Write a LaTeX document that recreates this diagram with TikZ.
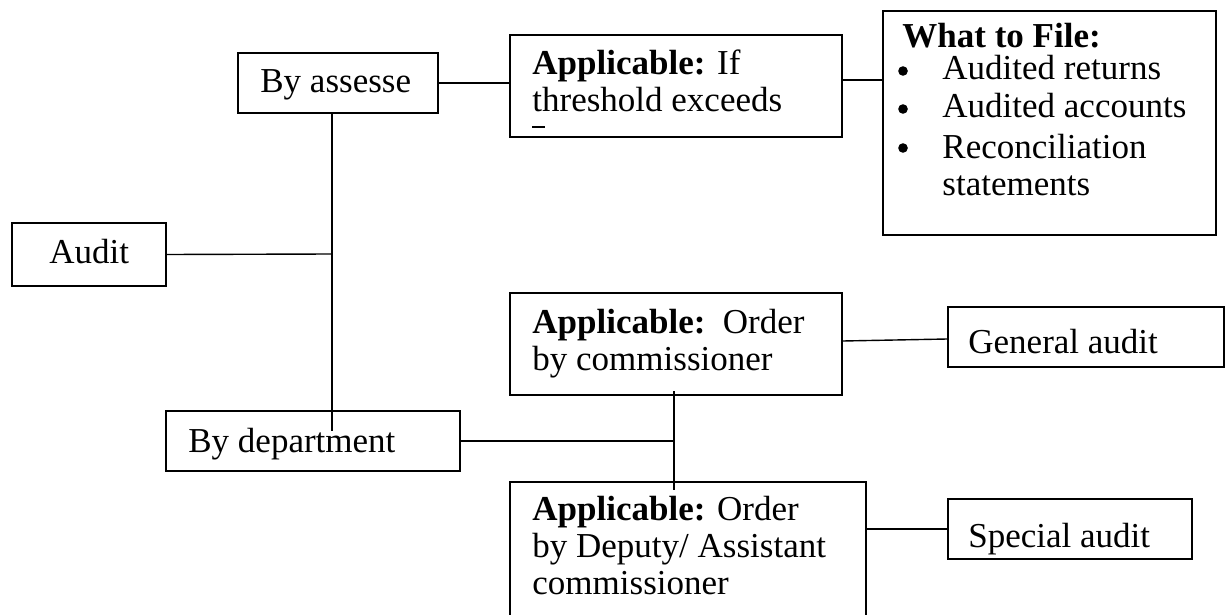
\documentclass[tikz,border=0pt]{standalone}
\usepackage{fontspec}
\setmainfont{Liberation Serif}
\begin{document}
\begin{tikzpicture}[x=0.5pt,y=-0.5pt,
  box/.style={draw,line width=0.9pt,rectangle,inner sep=0pt},
  link/.style={line width=0.7pt},
  txt/.style={anchor=base west,inner sep=0pt,align=left,font=\fontsize{17.5}{18.5}\selectfont}]
\clip (0,0) rectangle (1226,615);
\fill[white] (0,0) rectangle (1226,615);
% boxes
\node[box,minimum width=100pt,minimum height=30pt] (assesse) at (338,83) {};
\node[box,minimum width=166pt,minimum height=51pt] (appif) at (676,86) {};
\node[box,minimum width=166.5pt,minimum height=112pt] (file) at (1049.5,123) {};
\node[box,minimum width=77pt,minimum height=31.5pt] (audit) at (89,254.5) {};
\node[box,minimum width=166pt,minimum height=51pt] (comm) at (676,344) {};
\node[box,minimum width=138pt,minimum height=30pt] (general) at (1086,337) {};
\node[box,minimum width=147pt,minimum height=30pt] (dept) at (313,441) {};
\node[box,minimum width=178pt,minimum height=89pt] (deputy) at (688,571) {};
\node[box,minimum width=122pt,minimum height=30pt] (special) at (1070,529) {};
% junction coordinates
\coordinate (j1) at (332,254);
\coordinate (tb) at (332,431);
\coordinate (j2) at (674,442);
\coordinate (v1) at (674,391);
\coordinate (v2) at (674,490);
\coordinate (c1) at ([yshift=3pt]appif.east);
% connectors
\draw[link] (assesse.east) -- (appif.west |- assesse.east);
\draw[link] (c1) -- (c1 -| file.west);
\draw[link] (audit.east) -- (j1);
\draw[link] (j1 |- assesse.south) -- (tb);
\draw[link] (dept.east) -- (dept.east -| j2);
\draw[link] (v1) -- (v2);
\draw[link] ([yshift=1.5pt]comm.east) -- ([yshift=-1pt]general.west);
\draw[link] (deputy.east |- special.west) -- (special.west);
% clipped glyph remnant
\draw[line width=0.6pt] (532,127) -- (545,127);
% texts (base anchor = baseline of the last line)
\node[txt] (tassesse) at (260,93) {By assesse};
\node[txt] (tappif) at (532,112) {\textbf{Applicable:} If\\threshold exceeds};
\node[txt] (tfileh) at (902,48) {\textbf{What to File:}};
\fill (903,71) circle (2.4pt);
\fill (903,109) circle (2.4pt);
\fill (903,148) circle (2.4pt);
\node[txt] (f1) at (942,80) {Audited returns};
\node[txt] (f2) at (942,118) {Audited accounts};
\node[txt] (f3) at (942,195) {Reconciliation\\statements};
\node[txt] (taudit) at (49,263) {Audit};
\node[txt] (tcomm) at (532,370) {\textbf{Applicable:}\ \ Order\\by commissioner};
\node[txt] (tgeneral) at (968,353) {General audit};
\node[txt] (tdept) at (188,452) {By department};
\node[txt] (tdeputy) at (532,594) {\textbf{Applicable:} Order\\by Deputy/ Assistant\\commissioner};
\node[txt] (tspecial) at (968,547) {Special audit};
\end{tikzpicture}
\end{document}
